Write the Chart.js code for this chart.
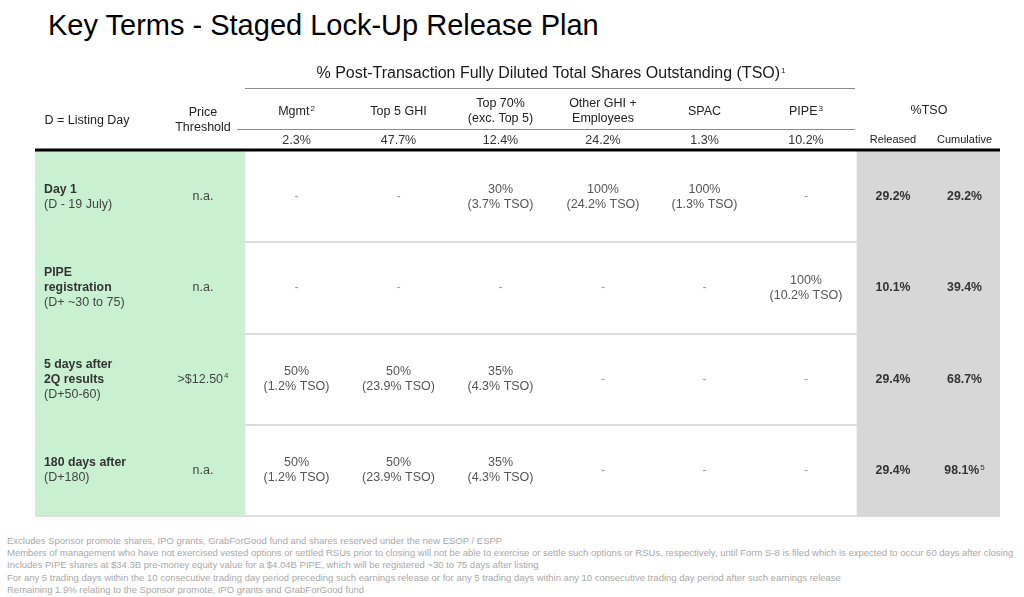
<!DOCTYPE html>
<html lang="en">
<head>
<meta charset="UTF-8">
<title>Key Terms - Staged Lock-Up Release Plan</title>
<script src="https://cdn.jsdelivr.net/npm/chart.js"></script>
<style>
    html, body { margin: 0; padding: 0; background: #fff; }
    body {
        width: 1024px;
        height: 597px;
        position: relative;
        overflow: hidden;
        font-family: "Liberation Sans", Arial, sans-serif;
    }
    h1 {
        position: absolute;
        left: 48px;
        top: 9px;
        margin: 0;
        font-size: 29px;
        font-weight: normal;
        color: #000;
        white-space: nowrap;
    }
    #wrap { position: absolute; left: 0; top: 0; width: 1024px; height: 520px; }
    #notes {
        position: absolute;
        left: 7px;
        top: 535px;
        font-size: 9.5px;
        line-height: 12.2px;
        color: #a8a8a8;
        white-space: nowrap;
    }
</style>
</head>
<body>

<h1>Key Terms - Staged Lock-Up Release Plan</h1>
<div id="wrap"><canvas id="lockupChart"></canvas></div>
<div id="notes"></div>

<script>
// table content
var rowLabels = [
    ['Day 1', '(D - 19 July)'],
    ['PIPE', 'registration', '(D+ ~30 to 75)'],
    ['5 days after', '2Q results', '(D+50-60)'],
    ['180 days after', '(D+180)']
];
var rowLabelBoldLines = [1, 2, 2, 1];
var priceThreshold = ['n.a.', 'n.a.', '>$12.50', 'n.a.'];
var priceNotes = ['', '', '4', ''];

var holderGroups = [['Mgmt'], ['Top 5 GHI'], ['Top 70%', '(exc. Top 5)'], ['Other GHI +', 'Employees'], ['SPAC'], ['PIPE']];
var holderNotes = ['2', '', '', '', '', '3'];
var groupShare = [2.3, 47.7, 12.4, 24.2, 1.3, 10.2];

// % of each holder group released per stage, and the same as % of TSO
var releasePct = [
    [null, null, 30, 100, 100, null],
    [null, null, null, null, null, 100],
    [50, 50, 35, null, null, null],
    [50, 50, 35, null, null, null]
];
var releaseTso = [
    [null, null, 3.7, 24.2, 1.3, null],
    [null, null, null, null, null, 10.2],
    [1.2, 23.9, 4.3, null, null, null],
    [1.2, 23.9, 4.3, null, null, null]
];
var releasedTso = [29.2, 10.1, 29.4, 29.4];
var cumulativeTso = [29.2, 39.4, 68.7, 98.1];
var cumulativeNotes = ['', '', '', '5'];

var footnotes = [
    'Excludes Sponsor promote shares, IPO grants, GrabForGood fund and shares reserved under the new ESOP / ESPP',
    'Members of management who have not exercised vested options or settled RSUs prior to closing will not be able to exercise or settle such options or RSUs, respectively, until Form S-8 is filed which is expected to occur 60 days after closing',
    'Includes PIPE shares at $34.3B pre-money equity value for a $4.04B PIPE, which will be registered ~30 to 75 days after listing',
    'For any 5 trading days within the 10 consecutive trading day period preceding such earnings release or for any 5 trading days within any 10 consecutive trading day period after such earnings release',
    'Remaining 1.9% relating to the Sponsor promote, IPO grants and GrabForGood fund'
];

// layout: column edges (label, price, six holder groups, released, cumulative)
var colEdges = [35, 161, 245, 348, 449, 552, 654, 755, 857, 929, 1000];
var headY = { group: 74, groupLine: 88, col: 112, colLine: 129, share: 141, rule: 150 };

var FONT = '"Liberation Sans", Arial, sans-serif';
var lineH = 15;

document.getElementById('notes').innerHTML = footnotes.join('<br>');

function fmt(v) { return v.toFixed(1) + '%'; }

function colCenter(scale, i) {
    return scale.getPixelForValue((colEdges[i] + colEdges[i + 1]) / 2);
}

// text with a small raised footnote mark
function drawNoted(ctx, text, note, x, y, font, align) {
    ctx.font = font;
    var w = ctx.measureText(text).width;
    ctx.font = '8px ' + FONT;
    var nw = note ? ctx.measureText(note).width + 1 : 0;
    var left = align === 'left' ? x : x - (w + nw) / 2;
    ctx.textAlign = 'left';
    ctx.textBaseline = 'middle';
    ctx.font = font;
    ctx.fillText(text, left, y);
    if (note) {
        ctx.font = '8px ' + FONT;
        ctx.fillText(note, left + w + 1, y - 3);
    }
}

function drawLines(ctx, lines, x, y, font, color) {
    ctx.fillStyle = color;
    var top = y - (lines.length - 1) * lineH / 2;
    lines.forEach(function (t, k) { drawNoted(ctx, t, '', x, top + k * lineH, font, 'center'); });
}

var tablePlugin = {
    id: 'tableText',
    afterDraw: function (chart) {
        var c = chart.ctx;
        var xs = chart.scales.x;
        var ys = chart.scales.y;
        var reg = '12.5px ' + FONT;
        var bold = 'bold 12.3px ' + FONT;
        c.save();

        // header block
        c.fillStyle = '#1a1a1a';
        drawNoted(c, '% Post-Transaction Fully Diluted Total Shares Outstanding (TSO)', '1',
            (xs.getPixelForValue(colEdges[2]) + xs.getPixelForValue(colEdges[8])) / 2, headY.group, '16px ' + FONT, 'center');

        c.fillStyle = '#222';
        drawNoted(c, 'D = Listing Day', '', 87, 121, reg, 'center');
        drawLines(c, ['Price', 'Threshold'], colCenter(xs, 1), 120, reg, '#222');
        holderGroups.forEach(function (g, i) {
            var cx = colCenter(xs, i + 2);
            c.fillStyle = '#222';
            if (g.length === 1) {
                drawNoted(c, g[0], holderNotes[i], cx, headY.col, reg, 'center');
            } else {
                drawLines(c, g, cx, headY.col - 1, reg, '#222');
            }
            c.fillStyle = '#333';
            drawNoted(c, fmt(groupShare[i]), '', cx, headY.share, reg, 'center');
        });
        c.fillStyle = '#222';
        drawNoted(c, '%TSO', '', xs.getPixelForValue(colEdges[9]), 111, reg, 'center');
        drawNoted(c, 'Released', '', colCenter(xs, 8), 140, '11px ' + FONT, 'center');
        drawNoted(c, 'Cumulative', '', colCenter(xs, 9), 140, '11px ' + FONT, 'center');

        // header rules
        c.strokeStyle = '#8a8a8a';
        c.lineWidth = 1;
        c.beginPath();
        c.moveTo(xs.getPixelForValue(colEdges[2]), headY.groupLine + 0.5);
        c.lineTo(xs.getPixelForValue(colEdges[8]) - 2, headY.groupLine + 0.5);
        c.moveTo(xs.getPixelForValue(colEdges[2]) - 8, headY.colLine + 0.5);
        c.lineTo(xs.getPixelForValue(colEdges[8]) - 2, headY.colLine + 0.5);
        c.stroke();
        c.strokeStyle = '#000';
        c.lineWidth = 3;
        c.beginPath();
        c.moveTo(chart.chartArea.left, headY.rule);
        c.lineTo(chart.chartArea.right, headY.rule);
        c.stroke();

        // body cells
        rowLabels.forEach(function (lines, r) {
            var cy = ys.getPixelForValue(r);
            var top = cy - (lines.length - 1) * lineH / 2;
            lines.forEach(function (t, k) {
                var isBold = k < rowLabelBoldLines[r];
                c.fillStyle = isBold ? '#333' : '#444';
                drawNoted(c, t, '', xs.getPixelForValue(colEdges[0]) + 9, top + k * lineH, isBold ? bold : reg, 'left');
            });

            c.fillStyle = '#444';
            drawNoted(c, priceThreshold[r], priceNotes[r], colCenter(xs, 1), cy, reg, 'center');

            releasePct[r].forEach(function (p, i) {
                var cx = colCenter(xs, i + 2);
                if (p === null) {
                    c.fillStyle = '#999';
                    drawNoted(c, '-', '', cx, cy, reg, 'center');
                } else {
                    drawLines(c, [p + '%', '(' + fmt(releaseTso[r][i]) + ' TSO)'], cx, cy, reg, '#555');
                }
            });

            c.fillStyle = '#333';
            drawNoted(c, fmt(releasedTso[r]), '', colCenter(xs, 8), cy, bold, 'center');
            drawNoted(c, fmt(cumulativeTso[r]), cumulativeNotes[r], colCenter(xs, 9), cy, bold, 'center');
        });

        c.restore();
    }
};

var ctx = document.getElementById('lockupChart').getContext('2d');
var lockupChart = new Chart(ctx, {
    type: 'bar',
    data: {
        labels: rowLabels.map(function (l) { return l.join(' '); }),
        datasets: [{
            label: 'Stage',
            data: rowLabels.map(function () { return [colEdges[0], colEdges[2]]; }),
            backgroundColor: '#c9f1d1'
        }, {
            label: '%TSO',
            data: rowLabels.map(function () { return [colEdges[8], colEdges[10]]; }),
            backgroundColor: '#d7d7d7'
        }]
    },
    options: {
        indexAxis: 'y',
        responsive: true,
        maintainAspectRatio: false,
        animation: false,
        events: [],
        layout: { padding: { left: 35, right: 24, top: 151, bottom: 4 } },
        datasets: { bar: { grouped: false, barPercentage: 1, categoryPercentage: 1, borderWidth: 0 } },
        plugins: { legend: { display: false }, tooltip: { enabled: false } },
        scales: {
            x: { type: 'linear', min: colEdges[0], max: colEdges[10], display: false },
            y: {
                offset: true,
                z: 1,
                grid: {
                    offset: true,
                    drawTicks: false,
                    lineWidth: 2,
                    color: function (g) { return g.index === 0 ? 'rgba(0,0,0,0)' : '#dddddd'; }
                },
                border: { display: false },
                ticks: { display: false }
            }
        }
    },
    plugins: [tablePlugin]
});
</script>

</body>
</html>
